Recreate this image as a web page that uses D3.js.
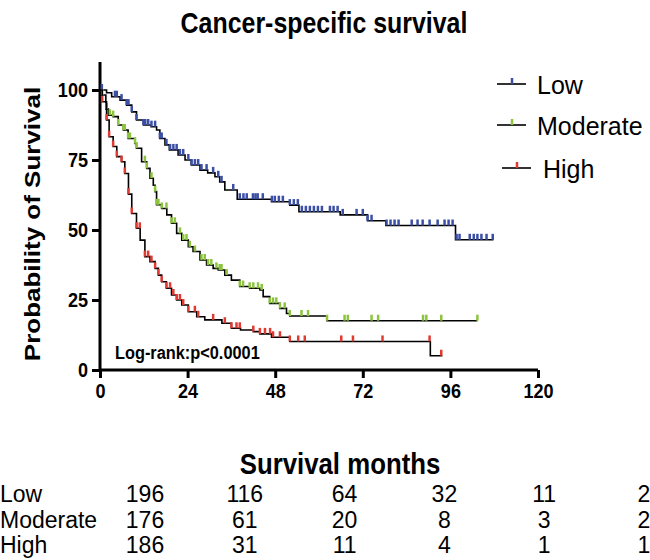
<!DOCTYPE html>
<html>
<head>
<meta charset="utf-8">
<script src="https://cdn.jsdelivr.net/npm/d3@7"></script>
<style>
  body { margin: 0; background: #fff; }
  text { font-family: "Liberation Sans", Arial, sans-serif; }
</style>
</head>
<body>
<div id="km"></div>
<script>
// step data: time of each drop (months) and survival (%) after it
var lowTimes  = [0, 1.8, 3.2, 5.5, 7.3, 8.7, 10, 11.9, 14, 15.5, 16.4, 17.8, 19, 21.4, 23.3, 25, 27.4, 29.5, 31.5, 32.8, 34.2, 37.6, 47, 52, 54.5, 65.8, 73.3, 78.3, 97.4];
var lowSurv   = [100, 99, 97.6, 96.4, 94.6, 92.2, 89.3, 87.5, 86.9, 85.7, 82.7, 80.4, 78.6, 76.8, 75, 73.2, 71.4, 70.4, 69, 67.2, 64.3, 61, 60.1, 58.9, 56.5, 55.4, 53.3, 51.6, 46.5];
var lowEnd = 107.8;

var modTimes  = [0, 0.6, 1.6, 2.3, 3.6, 5, 6.4, 7.7, 9.6, 10, 11.4, 12.8, 13.7, 14.6, 15.1, 15.5, 16.9, 18.3, 19.6, 21, 22.4, 24.2, 25.5, 27.4, 29.2, 31, 32.4, 34.2, 36, 38.3, 41, 43.8, 44.7, 46.5, 49.3, 51.1, 52, 62.2];
var modSurv   = [100, 98.2, 93.2, 91, 90.5, 87.5, 85.7, 82.7, 80.9, 79.2, 74.4, 72, 68.5, 66, 63.7, 59, 57.7, 55.4, 52.4, 48.8, 46.4, 44, 42.3, 39.3, 37.5, 36.3, 35.7, 33.9, 32.1, 29.8, 29.2, 28.6, 26.2, 23.8, 22, 20.2, 19.3, 17.6];
var modEnd = 103.4;

var highTimes = [0, 0.6, 1.8, 2.5, 3.6, 4.6, 5.9, 6.8, 7.8, 8.7, 10, 11, 12.3, 13.7, 15.1, 16, 16.9, 18.2, 19.6, 21, 22.4, 24.2, 26.5, 28.7, 33.4, 36, 38.5, 42, 43.8, 47, 52, 90.5];
var highSurv  = [100, 95.8, 89.3, 83.3, 79.8, 76.2, 74.4, 70.2, 62.8, 55.9, 50.6, 46.4, 40.5, 38.7, 36.3, 33.9, 31.5, 29.2, 26.8, 25, 23.2, 20.8, 19, 17.9, 16.7, 14.9, 14.3, 13.7, 12.9, 11.7, 10.2, 5.1];
var highEnd = 93.8;

// censored times
var lowCensor  = [0.5, 4.1, 4.6, 5.9, 7.3, 7.8, 8.7, 10, 11.9, 12.4, 13.2, 14.1, 15.1, 16.4, 16.9, 18.2, 19.2, 20.1, 21, 21.9, 22.8, 24.2, 25.1, 26, 26.9, 27.8, 29.2, 31, 32.4, 33.3, 36.5,
                  38.3, 39.3, 40.2, 41.9, 42.6, 43.2, 44.6, 47.1, 47.9, 49, 50.1, 52, 53.1, 54.2, 55.3, 56.4, 57.5, 58.6, 59.7, 60.8, 63, 64, 65.1, 66.5, 70.3, 72, 73.3, 74.4,
                  78.5, 79.6, 80.7, 81.8, 85.4, 87, 88.4, 90.3, 92.5, 94.4, 95.5, 96.6, 97.7, 98.5, 101.3, 102.4, 103.4, 104.5, 105.9, 107.6];
var modCensor  = [0.6, 1.8, 2.7, 3.6, 5, 6.4, 6.8, 7.7, 8.2, 9.6, 10, 12.3, 12.8, 14.1, 15.1, 15.5, 16, 16.9, 18.2, 19.6, 20.5, 21.9, 22.8, 23.7, 24.6, 26, 27.8, 28.7, 29.6, 30.5, 31.9, 32.8, 33.3, 34.7, 38.3, 39.2,
                  41, 42, 43.3, 44.3, 46.5, 47.4, 48.3, 49.3, 50.6, 52, 55.2, 57, 62.2, 67, 67.9, 74.4, 76.2, 88.5, 89.4, 93.5, 103.4];
var highCensor = [0.6, 1.8, 2.5, 3.6, 4.6, 5.9, 6.8, 7.8, 8.7, 10, 10.9, 12.3, 13.2, 14.1, 15.1, 16, 16.9, 18.2, 19.2, 20.1, 21, 21.9, 22.8, 24.2, 26, 26.9, 31, 34.2, 36, 37.4, 38.3,
                  42, 43.8, 45.2, 46.6, 47.4, 49.3, 52, 54.3, 56.1, 66.1, 69.3, 77.4, 90.3, 93.5];

// number at risk table
var riskGroups = ["Low", "Moderate", "High"];
var riskTimes = [0, 24, 48, 72, 96, 120];
var riskLow = [196, 116, 64, 32, 11, 2];
var riskModerate = [176, 61, 20, 8, 3, 2];
var riskHigh = [186, 31, 11, 4, 1, 1];

var xTicks = [0, 24, 48, 72, 96, 120];
var yTicks = [0, 25, 50, 75, 100];

var colors = {Low: "#3b4fa6", Moderate: "#8cc43f", High: "#e03a33"};

var groups = [
  {name: "Low", times: lowTimes, surv: lowSurv, end: lowEnd, censor: lowCensor},
  {name: "Moderate", times: modTimes, surv: modSurv, end: modEnd, censor: modCensor},
  {name: "High", times: highTimes, surv: highSurv, end: highEnd, censor: highCensor}
];

var svg = d3.select("#km").append("svg")
  .attr("width", 650)
  .attr("height", 560);

var x = d3.scaleLinear().domain([0, 120]).range([100, 538]);
var y = d3.scaleLinear().domain([0, 110]).range([370, 62]);

// the picture is a little squeezed sideways, so bold labels get a narrower x scale
var squeeze = 0.86;

// title
svg.append("text")
  .attr("transform", "translate(324,33) scale(" + squeeze + ",1)")
  .attr("text-anchor", "middle")
  .style("font-size", "29px").style("font-weight", "bold")
  .text("Cancer-specific survival");

// axes
var xAxis = svg.append("g")
  .attr("transform", "translate(0,370)")
  .call(d3.axisBottom(x).tickValues(xTicks).tickSize(8).tickPadding(5).tickSizeOuter(0));
var yAxis = svg.append("g")
  .attr("transform", "translate(100,0)")
  .call(d3.axisLeft(y).tickValues(yTicks).tickSize(8).tickPadding(6).tickSizeOuter(0));

[xAxis, yAxis].forEach(function(a) {
  a.select(".domain").attr("stroke", "#000").attr("stroke-width", 3);
  a.selectAll(".tick line").attr("stroke", "#000").attr("stroke-width", 3);
  a.selectAll(".tick text")
    .attr("fill", "#000")
    .attr("transform", "scale(" + squeeze + ",1)")
    .style("font-size", "21px").style("font-weight", "bold")
    .style("font-family", "'Liberation Sans', Arial, sans-serif");
});
// y domain line runs from 0 to the top of the axis
yAxis.select(".domain").attr("d", "M0," + y(0) + "V" + y(110));
xAxis.select(".domain").attr("d", "M" + x(0) + ",0H" + x(120));

// axis titles
svg.append("text")
  .attr("transform", "translate(340,474) scale(" + squeeze + ",1)")
  .attr("text-anchor", "middle")
  .style("font-size", "30px").style("font-weight", "bold")
  .text("Survival months");

svg.append("text")
  .attr("transform", "translate(40,224) scale(" + squeeze + ",1) rotate(-90)")
  .attr("text-anchor", "middle")
  .style("font-size", "26px").style("font-weight", "bold")
  .text("Probability of Survival");

// survival at a given time from the step arrays
function survAt(g, t) {
  var i = d3.bisectRight(g.times, t) - 1;
  return g.surv[Math.max(i, 0)];
}

var line = d3.line()
  .curve(d3.curveStepAfter)
  .x(function(d) { return x(d[0]); })
  .y(function(d) { return y(d[1]); });

groups.forEach(function(g) {
  var pts = g.times.map(function(t, i) { return [t, g.surv[i]]; });
  pts.push([g.end, g.surv[g.surv.length - 1]]);

  svg.append("path")
    .datum(pts)
    .attr("fill", "none")
    .attr("stroke", "#000")
    .attr("stroke-width", 1.6)
    .attr("d", line);

  svg.append("g").selectAll("line")
    .data(g.censor)
    .enter()
    .append("line")
      .attr("x1", function(d) { return x(d); })
      .attr("x2", function(d) { return x(d); })
      .attr("y1", function(d) { return y(survAt(g, d)); })
      .attr("y2", function(d) { return y(survAt(g, d)) - 6; })
      .attr("stroke", colors[g.name])
      .attr("stroke-width", 2.5);
});

// log-rank label
svg.append("text")
  .attr("transform", "translate(115,359) scale(" + squeeze + ",1)")
  .style("font-size", "19px").style("font-weight", "bold")
  .text("Log-rank:p<0.0001");

// legend
var legendY = {Low: 84, Moderate: 125, High: 168};
var legendX = {Low: 497, Moderate: 497, High: 502};
var leg = svg.append("g").selectAll("g")
  .data(riskGroups)
  .enter()
  .append("g");
leg.append("line")
  .attr("x1", function(d) { return legendX[d]; })
  .attr("x2", function(d) { return legendX[d] + 29; })
  .attr("y1", function(d) { return legendY[d]; })
  .attr("y2", function(d) { return legendY[d]; })
  .attr("stroke", "#000").attr("stroke-width", 1.6);
leg.append("line")
  .attr("x1", function(d) { return legendX[d] + 15; })
  .attr("x2", function(d) { return legendX[d] + 15; })
  .attr("y1", function(d) { return legendY[d]; })
  .attr("y2", function(d) { return legendY[d] - 6; })
  .attr("stroke", function(d) { return colors[d]; })
  .attr("stroke-width", 2.5);
leg.append("text")
  .attr("x", function(d) { return d === "High" ? 543 : 537; })
  .attr("y", function(d) { return legendY[d] + 10; })
  .style("font-size", "25px")
  .text(function(d) { return d; });

// number at risk table
var colX = d3.scaleLinear().domain([0, 120]).range([145, 644]);
var rowY = d3.scalePoint().domain(riskGroups).range([502, 553]);
var riskRows = {Low: riskLow, Moderate: riskModerate, High: riskHigh};

var rows = svg.append("g").selectAll("g")
  .data(riskGroups)
  .enter()
  .append("g")
    .attr("transform", function(d) { return "translate(0," + rowY(d) + ")"; });
rows.append("text")
  .attr("x", 0)
  .style("font-size", "23px")
  .text(function(d) { return d; });
rows.selectAll(".n")
  .data(function(d) { return riskRows[d].map(function(v, i) { return {t: riskTimes[i], v: v}; }); })
  .enter()
  .append("text")
    .attr("class", "n")
    .attr("x", function(d) { return colX(d.t); })
    .attr("text-anchor", "middle")
    .style("font-size", "23px")
    .text(function(d) { return d.v; });
</script>
</body>
</html>
